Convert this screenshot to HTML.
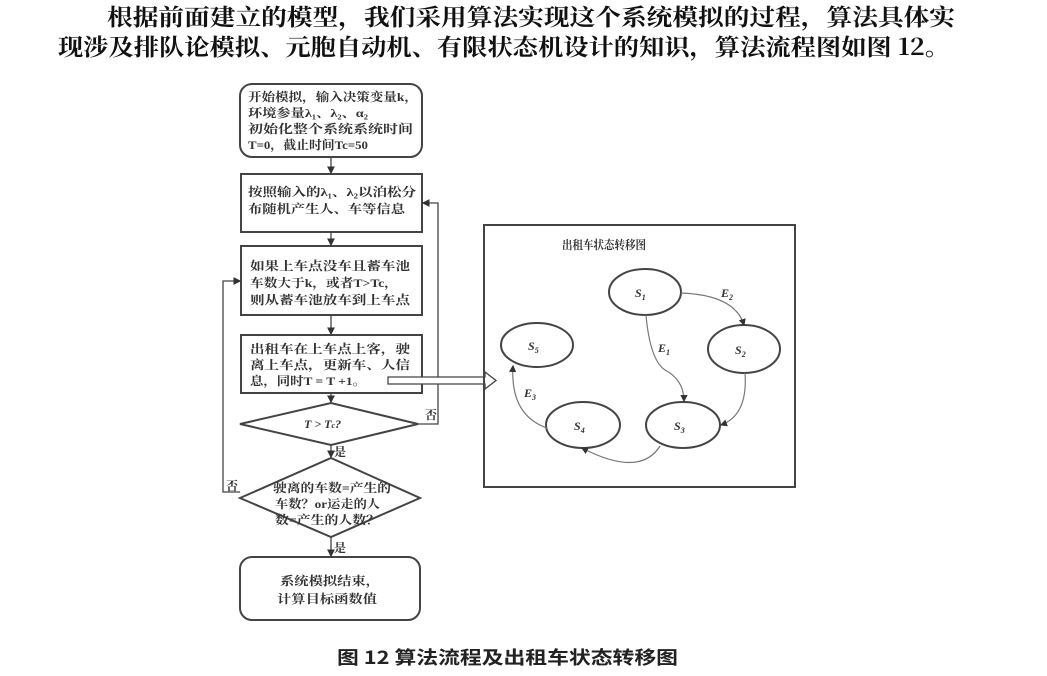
<!DOCTYPE html>
<html><head><meta charset="utf-8"><style>
body{margin:0;background:#fff;width:1047px;height:676px;overflow:hidden}
svg{position:absolute;left:0;top:0}
.t{font-family:"Liberation Serif","Noto Serif CJK SC",serif;font-size:12px;font-weight:bold;fill:#333}
.m{font-family:"Liberation Serif","Noto Serif CJK SC",serif;font-size:12px;font-weight:bold;font-style:italic;fill:#333}
</style></head><body>
<svg width="1047" height="676" viewBox="0 0 1047 676">
<defs><marker id="a" markerWidth="6" markerHeight="6" refX="5" refY="3" orient="auto"><path d="M0,0L6,3L0,6z" fill="#333"/></marker></defs>
<g font-family="'Noto Serif CJK SC','Noto Sans CJK SC',serif" font-size="23" fill="#111" font-weight="bold">
<text x="107" y="25" textLength="848" lengthAdjust="spacingAndGlyphs">根据前面建立的模型，我们采用算法实现这个系统模拟的过程，算法具体实</text>
<text x="58" y="55" textLength="892" lengthAdjust="spacingAndGlyphs">现涉及排队论模拟、元胞自动机、有限状态机设计的知识，算法流程图如图 12。</text>
</g>
<g fill="none" stroke="#444" stroke-width="2">
<rect x="240" y="84" width="182" height="73" rx="12"/>
<rect x="241" y="174" width="181" height="58"/>
<rect x="241" y="246" width="181" height="69"/>
<rect x="241" y="335" width="181" height="58"/>
<polygon points="240,424 331,403 418,424 331,445"/>
<polygon points="240,498 331,458 420,498 331,537"/>
<rect x="240" y="557" width="180" height="63" rx="12"/>
</g>
<g stroke="#444" stroke-width="1.3" fill="none" marker-end="url(#a)">
<line x1="331" y1="157" x2="331" y2="173"/>
<line x1="331" y1="232" x2="331" y2="245"/>
<line x1="331" y1="315" x2="331" y2="334"/>
<line x1="331" y1="393" x2="331" y2="402"/>
<line x1="331" y1="445" x2="331" y2="457"/>
<line x1="331" y1="537" x2="331" y2="556"/>
<polyline points="418,424 438,424 438,203 423,203"/>
<polyline points="240,492 223,492 223,281 240,281"/>
</g>
<g class="t">
<text x="248" y="101" textLength="170" lengthAdjust="spacingAndGlyphs">开始模拟，输入决策变量k，</text>
<text x="248" y="117" textLength="120" lengthAdjust="spacingAndGlyphs">环境参量λ₁、λ₂、α₂</text>
<text x="248" y="133" textLength="165" lengthAdjust="spacingAndGlyphs">初始化整个系统系统时间</text>
<text x="248" y="149" textLength="120" lengthAdjust="spacingAndGlyphs">T=0，截止时间Tc=50</text>
<text x="248" y="196" textLength="168" lengthAdjust="spacingAndGlyphs">按照输入的λ₁、λ₂以泊松分</text>
<text x="248" y="213" textLength="157" lengthAdjust="spacingAndGlyphs">布随机产生人、车等信息</text>
<text x="250" y="270" textLength="160" lengthAdjust="spacingAndGlyphs">如果上车点没车且蓄车池</text>
<text x="250" y="287" textLength="148" lengthAdjust="spacingAndGlyphs">车数大于k，或者T&gt;Tc，</text>
<text x="250" y="304" textLength="160" lengthAdjust="spacingAndGlyphs">则从蓄车池放车到上车点</text>
<text x="250" y="353" textLength="160" lengthAdjust="spacingAndGlyphs">出租车在上车点上客，驶</text>
<text x="250" y="369" textLength="160" lengthAdjust="spacingAndGlyphs">离上车点，更新车、人信</text>
<text x="250" y="385" textLength="116" lengthAdjust="spacingAndGlyphs">息，同时T = T +1。</text>
<text x="304" y="428" font-style="italic">T &gt; T<tspan font-size="8">c</tspan>?</text>
<text x="425" y="419">否</text>
<text x="334" y="456">是</text>
<text x="273" y="492" textLength="118" lengthAdjust="spacingAndGlyphs">驶离的车数=产生的</text>
<text x="275" y="508" textLength="105" lengthAdjust="spacingAndGlyphs">车数？or运走的人</text>
<text x="275" y="524" textLength="105" lengthAdjust="spacingAndGlyphs">数=产生的人数？</text>
<text x="226" y="490">否</text>
<text x="334" y="552">是</text>
<text x="280" y="585" textLength="100" lengthAdjust="spacingAndGlyphs">系统模拟结束，</text>
<text x="277" y="603" textLength="100" lengthAdjust="spacingAndGlyphs">计算目标函数值</text>
</g>
<path d="M388,377 H485 V372 L496,380.5 L485,389 V384 H388 Z" fill="#fff" stroke="#444" stroke-width="1.3"/>
<rect x="484" y="225" width="311" height="262" fill="none" stroke="#444" stroke-width="2"/>
<text class="t" x="562" y="249" textLength="84" lengthAdjust="spacingAndGlyphs">出租车状态转移图</text>
<g fill="none" stroke="#444" stroke-width="2">
<ellipse cx="645" cy="292" rx="36" ry="23"/>
<ellipse cx="744" cy="349" rx="36" ry="24"/>
<ellipse cx="537" cy="345" rx="36" ry="22"/>
<ellipse cx="583" cy="425" rx="37" ry="23"/>
<ellipse cx="683" cy="425" rx="37" ry="23"/>
</g>
<g fill="none" stroke="#777" stroke-width="1.2" marker-end="url(#a)">
<path d="M681,293 Q735,295 744,325"/>
<path d="M646,315 Q650,360 665,370 Q684,380 684,401"/>
<path d="M745,373 Q748,415 721,425"/>
<path d="M660,446 Q640,478 582,448"/>
<path d="M547,428 Q510,415 513,366"/>
</g>
<g class="m">
<text x="635" y="297">S<tspan font-size="8" dy="3">1</tspan></text>
<text x="735" y="354">S<tspan font-size="8" dy="3">2</tspan></text>
<text x="528" y="350">S<tspan font-size="8" dy="3">5</tspan></text>
<text x="574" y="430">S<tspan font-size="8" dy="3">4</tspan></text>
<text x="674" y="430">S<tspan font-size="8" dy="3">3</tspan></text>
<text x="721" y="297">E<tspan font-size="8" dy="3">2</tspan></text>
<text x="658" y="352">E<tspan font-size="8" dy="3">1</tspan></text>
<text x="524" y="397">E<tspan font-size="8" dy="3">3</tspan></text>
</g>
<text x="337" y="664" textLength="341" lengthAdjust="spacingAndGlyphs" font-family="'Noto Sans CJK SC',sans-serif" font-size="18" font-weight="bold" fill="#222">图 12  算法流程及出租车状态转移图</text>
</svg>
</body></html>
